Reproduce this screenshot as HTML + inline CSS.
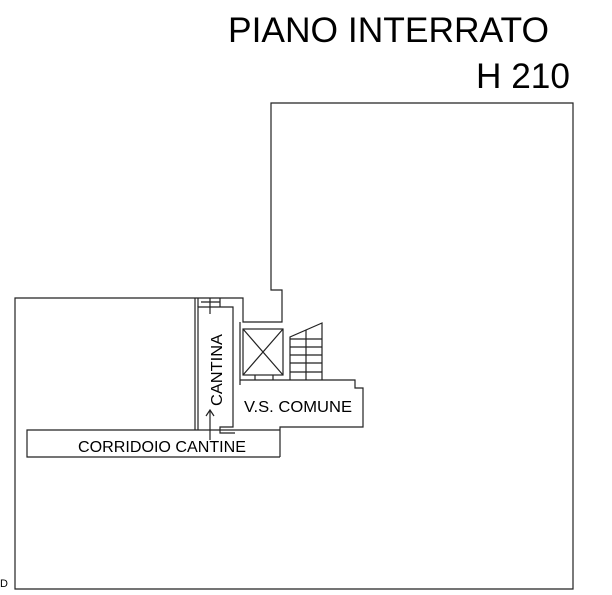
<!DOCTYPE html>
<html><head><style>
html,body{margin:0;padding:0;background:#fff;}
svg{display:block;}
text{font-family:"Liberation Sans",Arial,sans-serif;fill:#000;}
</style></head><body>
<svg width="612" height="595" viewBox="0 0 612 595" xmlns="http://www.w3.org/2000/svg">
<g fill="none" stroke="#222" stroke-width="1.2">
<!-- outer boundary -->
<path d="M15 298 H243 V322 H282 V290 H271 V103 H573 V589 H15 Z"/>
<!-- corridor -->
<path d="M280 430 H27 V457 H280"/>
<!-- VS comune -->
<path d="M280 457 V427 H363 V388 H355 V380 H283"/>
<!-- cantina -->
<path d="M195 298 V430"/>
<path d="M198 430 V307 H233 V427 H220 V433 H235"/>
<path d="M198 298 V307 M220 298 V307 M210 298 V314 M201 302 H220"/>
<!-- elevator -->
<path d="M240 322 V385 M240 380 H283"/>
<rect x="243" y="329" width="40" height="46"/>
<path d="M243 329 L283 375 M283 329 L243 375"/>
<path d="M255 375 V380 M273 375 V380"/>
<!-- stairs -->
<path d="M290 380 V337 L322 323 V380"/>
<path d="M290 339 H322 M290 347 H322 M290 355 H322 M290 363 H322 M290 372 H322"/>
<path d="M306 330 V380"/>
<!-- arrow -->
<path d="M210 440 V411 M206 416 L210 410 L214 416"/>
</g>
<text x="228" y="42" font-size="35" textLength="321" lengthAdjust="spacingAndGlyphs">PIANO INTERRATO</text>
<text x="476" y="88" font-size="35" textLength="94" lengthAdjust="spacingAndGlyphs">H 210</text>
<text x="78" y="452" font-size="16" textLength="168" lengthAdjust="spacingAndGlyphs">CORRIDOIO CANTINE</text>
<text x="244" y="412" font-size="16" textLength="108" lengthAdjust="spacingAndGlyphs">V.S. COMUNE</text>
<text transform="translate(222,406) rotate(-90)" font-size="16" textLength="72" lengthAdjust="spacingAndGlyphs">CANTINA</text>
<text x="0" y="587" font-size="11" font-family="Liberation Serif,serif">D</text>
</svg>
</body></html>
